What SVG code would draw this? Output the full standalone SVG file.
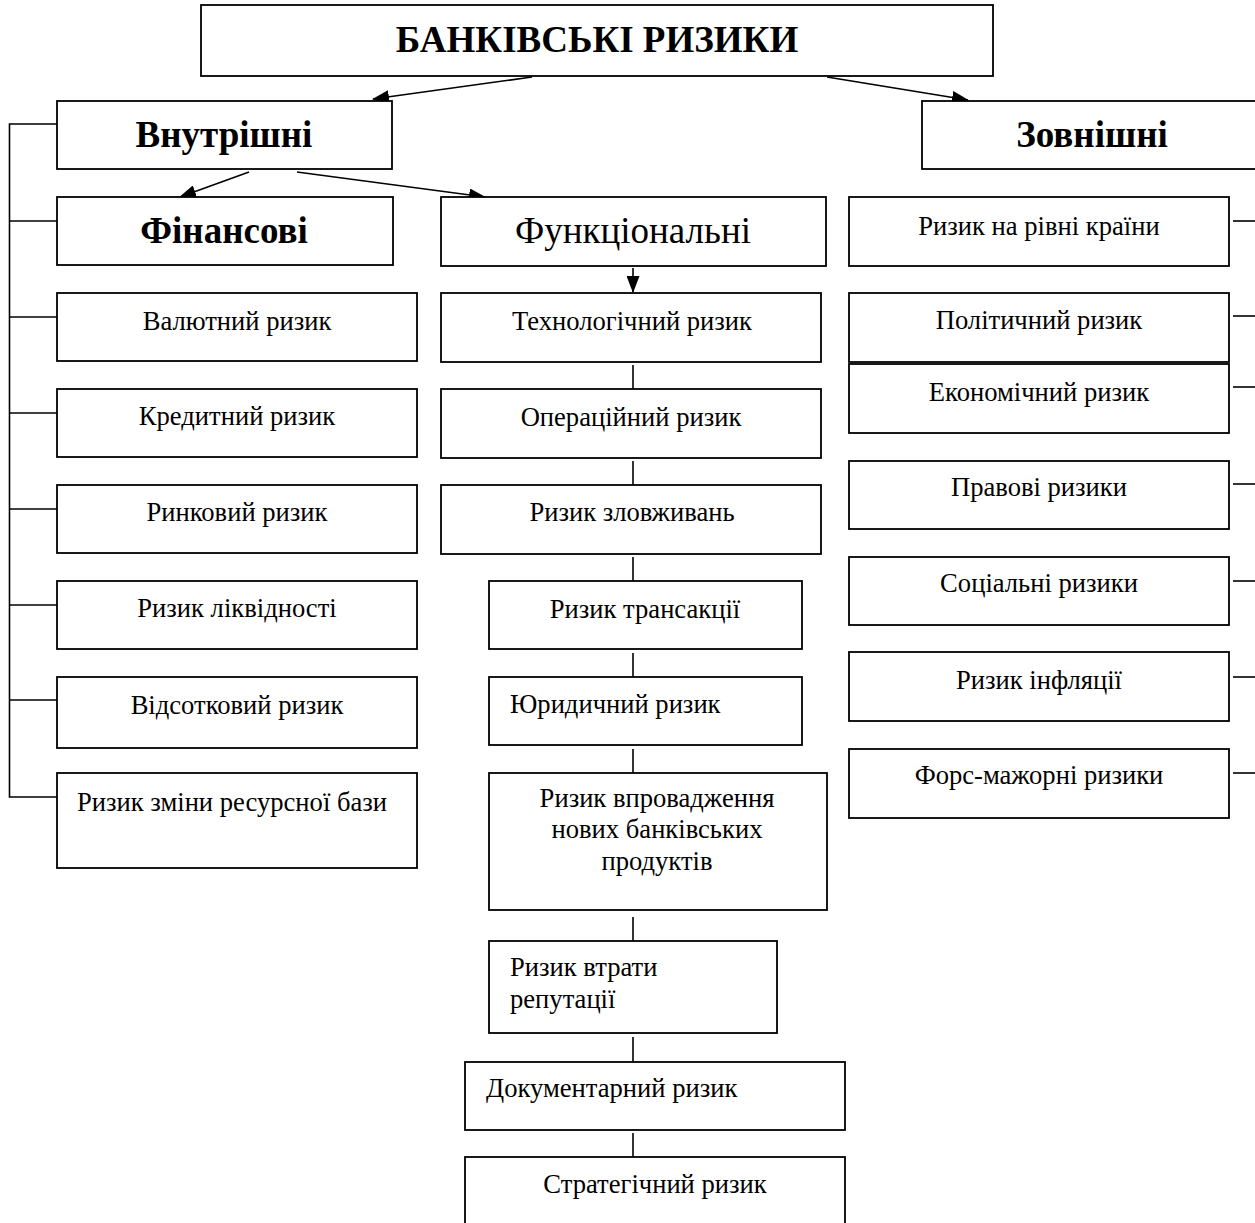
<svg xmlns="http://www.w3.org/2000/svg" width="1255" height="1223" viewBox="0 0 1255 1223">
<style>
.box{fill:#fff;stroke:#000;stroke-width:1.8}
.ln{stroke:#000;stroke-width:1.6;fill:none}
.t{font-family:"Liberation Serif","Times New Roman",serif;font-size:26.6px;fill:#000}
.c{text-anchor:middle}
.h{font-family:"Liberation Serif","Times New Roman",serif;font-size:37px;font-weight:bold;fill:#000;text-anchor:middle}
</style>
<defs>
<marker id="ah" markerWidth="17" markerHeight="13" refX="16" refY="6.5" orient="auto" markerUnits="userSpaceOnUse">
<path d="M0,0 L17,6.5 L0,13 Z" fill="#000"/>
</marker>
</defs>
<rect width="1255" height="1223" fill="#fff"/>
<g id="connectors">
<line class="ln" x1="532" y1="77" x2="373" y2="99" marker-end="url(#ah)"/>
<line class="ln" x1="827" y1="77" x2="968" y2="100" marker-end="url(#ah)"/>
<line class="ln" x1="249" y1="172" x2="180" y2="197" marker-end="url(#ah)"/>
<line class="ln" x1="297" y1="172" x2="485" y2="197" marker-end="url(#ah)"/>
<line class="ln" x1="633" y1="268" x2="633" y2="292" marker-end="url(#ah)"/>
<polyline class="ln" points="57,124 9.5,124 9.5,797 57,797"/>
<line class="ln" x1="9.5" y1="221" x2="57" y2="221"/>
<line class="ln" x1="9.5" y1="317" x2="57" y2="317"/>
<line class="ln" x1="9.5" y1="413" x2="57" y2="413"/>
<line class="ln" x1="9.5" y1="509" x2="57" y2="509"/>
<line class="ln" x1="9.5" y1="605" x2="57" y2="605"/>
<line class="ln" x1="9.5" y1="700" x2="57" y2="700"/>
<line class="ln" x1="633" y1="365" x2="633" y2="389"/>
<line class="ln" x1="633" y1="461" x2="633" y2="485"/>
<line class="ln" x1="633" y1="557" x2="633" y2="581"/>
<line class="ln" x1="633" y1="653" x2="633" y2="677"/>
<line class="ln" x1="633" y1="749" x2="633" y2="773"/>
<line class="ln" x1="633" y1="917" x2="633" y2="941"/>
<line class="ln" x1="633" y1="1037" x2="633" y2="1062"/>
<line class="ln" x1="633" y1="1133" x2="633" y2="1157"/>
<line class="ln" x1="1233" y1="221" x2="1255" y2="221"/>
<line class="ln" x1="1233" y1="316" x2="1255" y2="316"/>
<line class="ln" x1="1233" y1="387" x2="1255" y2="387"/>
<line class="ln" x1="1233" y1="484" x2="1255" y2="484"/>
<line class="ln" x1="1233" y1="581" x2="1255" y2="581"/>
<line class="ln" x1="1233" y1="677" x2="1255" y2="677"/>
<line class="ln" x1="1233" y1="773" x2="1255" y2="773"/>
</g>
<g id="n-root"><rect class="box" x="201" y="5" width="792" height="71"/><text class="h" x="597" y="52">БАНКІВСЬКІ РИЗИКИ</text></g>
<g id="n-internal"><rect class="box" x="57" y="101" width="335" height="68"/><text class="h" x="224" y="147">Внутрішні</text></g>
<g id="n-external"><rect class="box" x="922" y="101" width="340" height="68"/><text class="h" x="1092" y="147">Зовнішні</text></g>
<g id="n-fin"><rect class="box" x="57" y="197" width="336" height="68"/><text class="h" x="224" y="243">Фінансові</text></g>
<g id="n-func"><rect class="box" x="441" y="197" width="385" height="69"/><text class="t c" x="633" y="243" style="font-size:37px">Функціональні</text></g>
<g id="n-f1"><rect class="box" x="57" y="293" width="360" height="68"/><text class="t c" x="237" y="330">Валютний ризик</text></g>
<g id="n-f2"><rect class="box" x="57" y="389" width="360" height="68"/><text class="t c" x="237" y="425">Кредитний ризик</text></g>
<g id="n-f3"><rect class="box" x="57" y="485" width="360" height="68"/><text class="t c" x="237" y="521">Ринковий ризик</text></g>
<g id="n-f4"><rect class="box" x="57" y="581" width="360" height="68"/><text class="t c" x="237" y="617">Ризик ліквідності</text></g>
<g id="n-f5"><rect class="box" x="57" y="677" width="360" height="71"/><text class="t c" x="237" y="714">Відсотковий ризик</text></g>
<g id="n-f6"><rect class="box" x="57" y="773" width="360" height="95"/><text class="t c" x="232" y="811">Ризик зміни ресурсної бази</text></g>
<g id="n-m1"><rect class="box" x="441" y="293" width="380" height="69"/><text class="t c" x="632" y="330">Технологічний ризик</text></g>
<g id="n-m2"><rect class="box" x="441" y="389" width="380" height="69"/><text class="t c" x="631" y="426">Операційний ризик</text></g>
<g id="n-m3"><rect class="box" x="441" y="485" width="380" height="69"/><text class="t c" x="632" y="521">Ризик зловживань</text></g>
<g id="n-m4"><rect class="box" x="489" y="581" width="313" height="68"/><text class="t c" x="645" y="618">Ризик трансакції</text></g>
<g id="n-m5"><rect class="box" x="489" y="677" width="313" height="68"/><text class="t" x="510" y="713">Юридичний ризик</text></g>
<g id="n-m6"><rect class="box" x="489" y="773" width="338" height="137"/><text class="t c" x="657" y="807">Ризик впровадження</text><text class="t c" x="657" y="838">нових банківських</text><text class="t c" x="657" y="870">продуктів</text></g>
<g id="n-m7"><rect class="box" x="489" y="941" width="288" height="92"/><text class="t" x="510" y="976">Ризик втрати</text><text class="t" x="510" y="1008">репутації</text></g>
<g id="n-m8"><rect class="box" x="465" y="1062" width="380" height="68"/><text class="t" x="486" y="1097">Документарний ризик</text></g>
<g id="n-m9"><rect class="box" x="465" y="1157" width="380" height="80"/><text class="t c" x="655" y="1193">Стратегічний ризик</text></g>
<g id="n-e1"><rect class="box" x="849" y="197" width="380" height="69"/><text class="t c" x="1039" y="235">Ризик на рівні країни</text></g>
<g id="n-e2"><rect class="box" x="849" y="293" width="380" height="69"/><text class="t c" x="1039" y="329">Політичний ризик</text></g>
<g id="n-e3"><rect class="box" x="849" y="364" width="380" height="69"/><text class="t c" x="1039" y="401">Економічний ризик</text></g>
<g id="n-e4"><rect class="box" x="849" y="461" width="380" height="68"/><text class="t c" x="1039" y="496">Правові ризики</text></g>
<g id="n-e5"><rect class="box" x="849" y="557" width="380" height="68"/><text class="t c" x="1039" y="592">Соціальні ризики</text></g>
<g id="n-e6"><rect class="box" x="849" y="652" width="380" height="69"/><text class="t c" x="1039" y="689">Ризик інфляції</text></g>
<g id="n-e7"><rect class="box" x="849" y="749" width="380" height="69"/><text class="t c" x="1039" y="784">Форс-мажорні ризики</text></g>
</svg>
